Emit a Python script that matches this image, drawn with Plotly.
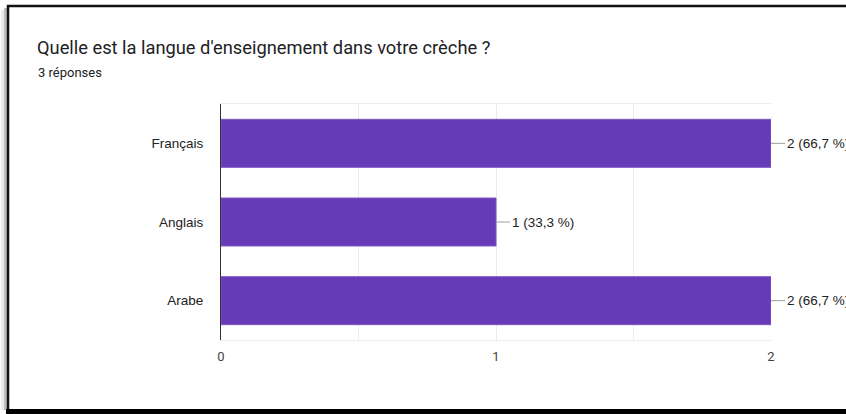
import plotly.graph_objects as go

categories = ["Français", "Anglais", "Arabe"]
counts = [2, 1, 2]
percent_labels = ["66,7 %", "33,3 %", "66,7 %"]
title_text = "Quelle est la langue d'enseignement dans votre crèche ?"
subtitle_text = "3 réponses"
tick_vals = [0, 1, 2]

W, H = 846, 414
L, R, T, B = 221, 75, 104, 74
pw, ph = W - L - R, H - T - B

def px(x):
    return (x - L) / pw

def py(y):
    return (H - B - y) / ph

LABEL_FONT = "Arial, Liberation Sans, sans-serif"

fig = go.Figure()
fig.add_trace(go.Bar(
    y=categories, x=counts, orientation="h",
    marker=dict(color="#673ab7", line=dict(color="#7e57c2", width=1)),
    width=0.61, hoverinfo="skip",
))

for c, v, p in zip(categories, counts, percent_labels):
    fig.add_annotation(
        x=v, y=c, xref="x", yref="y",
        text=f"{v} ({p})", showarrow=True, arrowhead=0, arrowwidth=1,
        arrowcolor="#9e9e9e", ax=14, ay=0, xanchor="left",
        font=dict(family=LABEL_FONT, size=13.5, color="#222222"),
        standoff=0, startstandoff=0,
    )

# title
fig.add_annotation(x=px(35), y=py(48), xref="paper", yref="paper",
                   text=title_text, showarrow=False, xanchor="left", yanchor="middle",
                   font=dict(family="Roboto, Arial, sans-serif", size=18.3, color="#202124"))
fig.add_annotation(x=px(36), y=py(73), xref="paper", yref="paper",
                   text=subtitle_text, showarrow=False, xanchor="left", yanchor="middle",
                   font=dict(family="Roboto, Arial, sans-serif", size=13, color="#202124"))

# frame (screenshot card border)
shapes = [
    dict(type="rect", xref="paper", yref="paper", x0=px(1), x1=px(4), y0=py(410), y1=py(10),
         fillcolor="rgba(0,0,0,0.08)", line=dict(width=0), layer="below"),
    dict(type="rect", xref="paper", yref="paper", x0=px(4), x1=px(7), y0=py(410), y1=py(8),
         fillcolor="rgba(0,0,0,0.25)", line=dict(width=0), layer="below"),
    dict(type="line", xref="paper", yref="paper", x0=px(7), x1=px(850), y0=py(6), y1=py(6),
         line=dict(color="#111111", width=2.5)),
    dict(type="line", xref="paper", yref="paper", x0=px(8), x1=px(8), y0=py(5), y1=py(410),
         line=dict(color="#111111", width=2.5)),
    dict(type="rect", xref="paper", yref="paper", x0=px(6), x1=px(850), y0=py(409), y1=py(416),
         fillcolor="#000000", line=dict(width=0)),
]
fig.update_layout(shapes=shapes)

fig.update_layout(
    width=W, height=H,
    margin=dict(l=L, r=R, t=T, b=B),
    paper_bgcolor="white", plot_bgcolor="white",
    showlegend=False,
    font=dict(family="Roboto, Arial, sans-serif", size=12, color="#222222"),
    xaxis=dict(
        range=[0, 2], tickvals=tick_vals, ticktext=[str(t) for t in tick_vals],
        showgrid=True, gridcolor="#ebebeb", gridwidth=1,
        minor=dict(dtick=0.5, showgrid=True, gridcolor="#ebebeb", gridwidth=1),
        zeroline=False, showline=True, linecolor="#ebebeb", linewidth=1, mirror=True,
        tickfont=dict(family="Roboto, Arial, sans-serif", size=13, color="#444444"), ticklen=0,
        ticklabelstandoff=4,
    ),
    yaxis=dict(
        autorange="reversed", showgrid=False, zeroline=False,
        showline=True, linecolor="#333333", linewidth=1,
        ticks="", ticklabelstandoff=14,
        tickfont=dict(family=LABEL_FONT, size=13.5, color="#222222"),
    ),
)

fig.write_html("out.html", config={"displayModeBar": False},
               post_script="document.body.style.margin='0';")
